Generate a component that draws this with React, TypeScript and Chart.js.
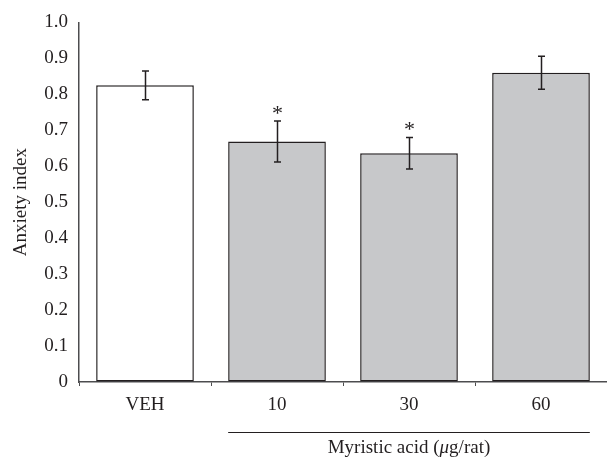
import React, { useEffect, useRef } from "react";
import { Chart, registerables } from "chart.js";

Chart.register(...registerables);

const categories = ["VEH", "10", "30", "60"];
const anxietyIndex = [0.825, 0.669, 0.636, 0.860];
const errorValues = [0.04, 0.057, 0.044, 0.046];
const significant = [false, true, true, false];
const yTicks = [0, 0.1, 0.2, 0.3, 0.4, 0.5, 0.6, 0.7, 0.8, 0.9, 1.0];
const barFill = ["#ffffff", "#c7c8ca", "#c7c8ca", "#c7c8ca"];
const groupLabel = { before: "Myristic acid (", italic: "\u03bc", after: "g/rat)" };
const groupedFrom = 1; // first category under the group line

const FONT = "'Liberation Serif', 'Times New Roman', serif";
const FS = 19;
const DARK = "#231f20";
const AXIS = "#4d4d4f";

const extras = {
  id: "extras",
  afterDatasetsDraw(chart: any) {
    const { ctx, scales } = chart;
    const x = scales.x;
    const y = scales.y;
    ctx.save();
    ctx.strokeStyle = DARK;
    ctx.lineWidth = 1.5;
    ctx.fillStyle = DARK;
    for (let i = 0; i < anxietyIndex.length; i++) {
      const cx = Math.round(x.getPixelForValue(i)) + 0.5;
      const top = y.getPixelForValue(anxietyIndex[i] + errorValues[i]);
      const bot = y.getPixelForValue(anxietyIndex[i] - errorValues[i]);
      ctx.beginPath();
      ctx.moveTo(cx, top);
      ctx.lineTo(cx, bot);
      ctx.moveTo(cx - 3.5, top);
      ctx.lineTo(cx + 3.5, top);
      ctx.moveTo(cx - 3.5, bot);
      ctx.lineTo(cx + 3.5, bot);
      ctx.stroke();
      if (significant[i]) {
        ctx.font = `22px ${FONT}`;
        ctx.textAlign = "center";
        ctx.textBaseline = "middle";
        ctx.fillText("*", cx, top - 7);
      }
    }
    // group line and label
    const meta = chart.getDatasetMeta(0);
    const first = meta.data[groupedFrom];
    const last = meta.data[meta.data.length - 1];
    const x1 = first.x - first.width / 2;
    const x2 = last.x + last.width / 2;
    const lineY = y.bottom + 50;
    ctx.lineWidth = 1;
    ctx.strokeStyle = DARK;
    ctx.beginPath();
    ctx.moveTo(x1, lineY + 0.5);
    ctx.lineTo(x2, lineY + 0.5);
    ctx.stroke();
    ctx.textBaseline = "middle";
    ctx.textAlign = "left";
    const normal = `${FS}px ${FONT}`;
    const ital = `italic ${FS}px ${FONT}`;
    ctx.font = normal;
    const w1 = ctx.measureText(groupLabel.before).width;
    const w3 = ctx.measureText(groupLabel.after).width;
    ctx.font = ital;
    const w2 = ctx.measureText(groupLabel.italic).width;
    const total = w1 + w2 + w3;
    let tx = (x1 + x2) / 2 - total / 2;
    const ty = lineY + 16;
    ctx.font = normal;
    ctx.fillText(groupLabel.before, tx, ty);
    tx += w1;
    ctx.font = ital;
    ctx.fillText(groupLabel.italic, tx, ty);
    tx += w2;
    ctx.font = normal;
    ctx.fillText(groupLabel.after, tx, ty);
    ctx.restore();
  },
};

export default function App() {
  const ref = useRef<HTMLCanvasElement | null>(null);
  useEffect(() => {
    if (!ref.current) return;
    const chart = new Chart(ref.current, {
      type: "bar",
      data: {
        labels: categories,
        datasets: [
          {
            data: anxietyIndex,
            backgroundColor: barFill,
            borderColor: DARK,
            borderWidth: 1.5,
            borderSkipped: false,
            categoryPercentage: 0.74,
            barPercentage: 1,
          },
        ],
      },
      options: {
        animation: false,
        responsive: true,
        maintainAspectRatio: false,
        layout: { padding: { top: 22, right: 0, left: 0, bottom: 0 } },
        plugins: { legend: { display: false }, tooltip: { enabled: false } },
        scales: {
          x: {
            offset: true,
            grid: {
              offset: true,
              drawOnChartArea: false,
              drawTicks: true,
              tickLength: 4,
              color: AXIS,
              lineWidth: 1,
            },
            border: { display: true, color: AXIS, width: 1.5 },
            ticks: {
              color: DARK,
              font: { family: FONT, size: FS },
              padding: 8,
            },
            afterFit(scale: any) {
              scale.height = 77;
            },
          },
          y: {
            min: 0,
            max: 1,
            afterBuildTicks(scale: any) {
              scale.ticks = yTicks.map((v) => ({ value: v }));
            },
            grid: { display: true, drawOnChartArea: false, drawTicks: false },
            border: { display: true, color: AXIS, width: 1.5 },
            ticks: {
              color: DARK,
              font: { family: FONT, size: FS },
              padding: 11,
              callback: (v: any) => (Number(v) === 0 ? "0" : Number(v).toFixed(1)),
            },
            title: {
              display: true,
              text: "Anxiety index",
              color: DARK,
              font: { family: FONT, size: FS },
              padding: { top: 10, bottom: 0 },
            },
            afterFit(scale: any) {
              scale.width = 79;
            },
          },
        },
      },
      plugins: [extras],
    });
    return () => chart.destroy();
  }, []);
  return (
    <div style={{ position: "absolute", left: 0, top: 0, width: 607, height: 459, background: "#fff" }}>
      <canvas ref={ref} />
    </div>
  );
}
